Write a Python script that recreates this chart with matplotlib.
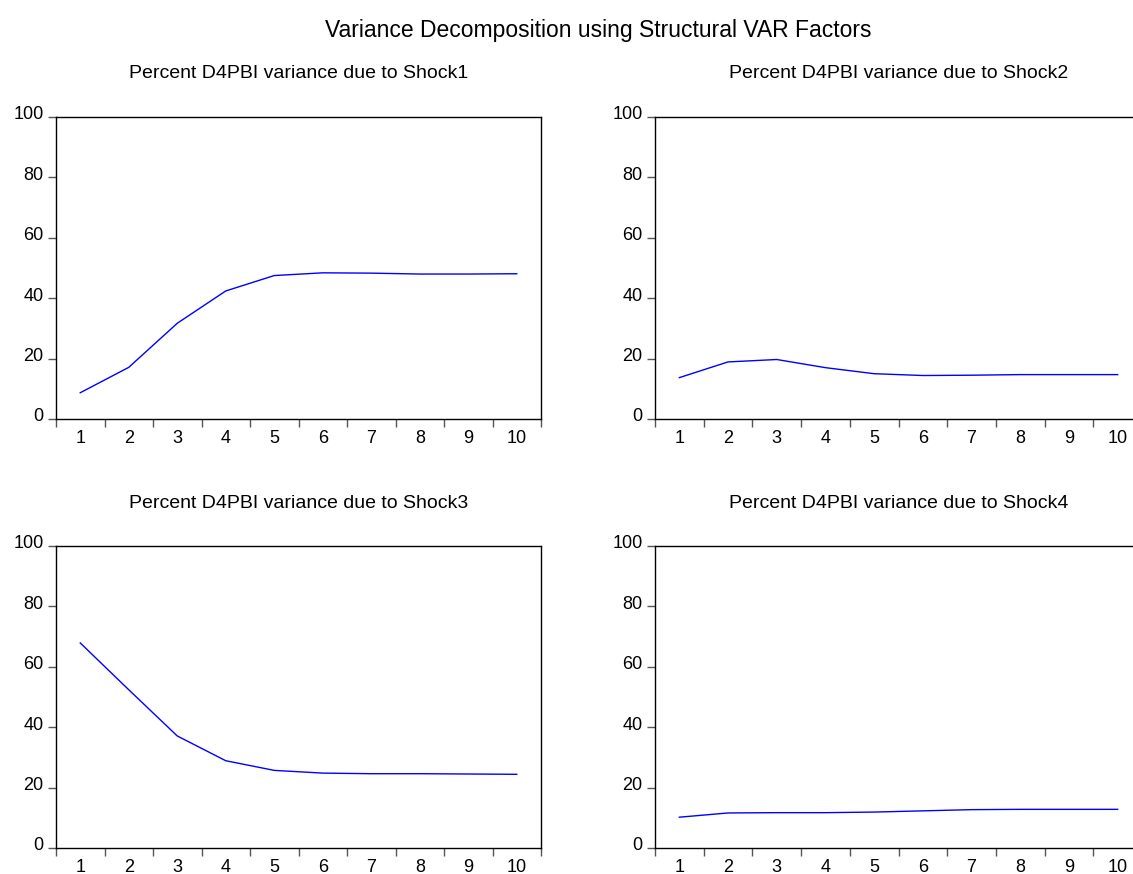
import matplotlib
matplotlib.use("Agg")
import matplotlib.pyplot as plt
import matplotlib.transforms as mtransforms

plt.rcParams["font.family"] = ["Liberation Sans", "DejaVu Sans"]

# forecast horizon
periods = [1, 2, 3, 4, 5, 6, 7, 8, 9, 10]

# percent of D4PBI variance explained by each shock
shock1 = [8.7, 17.1, 31.7, 42.4, 47.5, 48.4, 48.3, 48.0, 48.0, 48.1]
shock2 = [13.7, 18.9, 19.7, 17.0, 15.0, 14.4, 14.5, 14.7, 14.7, 14.7]
shock3 = [67.9, 52.4, 37.1, 28.9, 25.7, 24.8, 24.6, 24.6, 24.5, 24.4]
shock4 = [10.2, 11.6, 11.7, 11.7, 11.9, 12.3, 12.7, 12.8, 12.8, 12.8]

titles = [
    "Percent D4PBI variance due to Shock1",
    "Percent D4PBI variance due to Shock2",
    "Percent D4PBI variance due to Shock3",
    "Percent D4PBI variance due to Shock4",
]
series = [shock1, shock2, shock3, shock4]
yticks = [0, 20, 40, 60, 80, 100]

W, H = 1133, 874
fig = plt.figure(figsize=(W / 100, H / 100), dpi=100)

# axes boxes in pixels: left, top, right, bottom
boxes = [
    (56, 117, 541, 419),
    (655, 117, 1142, 419),
    (56, 546, 541, 848),
    (655, 546, 1142, 848),
]

for box, title, vals in zip(boxes, titles, series):
    l, t, r, b = box
    ax = fig.add_axes([l / W, 1 - b / H, (r - l) / W, (b - t) / H])
    ax.plot(periods, vals, color="#0000ff", lw=1.0)
    ax.set_xlim(0.5, 10.5)
    ax.set_ylim(0, 100)
    ax.set_yticks(yticks)
    ax.set_xticks(periods)
    ax.set_xticks([p + 0.5 for p in [0] + periods], minor=True)
    ax.tick_params(axis="x", which="major", length=0, pad=8, labelsize=13)
    ax.tick_params(axis="x", which="minor", length=6, width=1, color="#555555",
                   direction="out")
    ax.tick_params(axis="y", which="major", length=6, width=1, color="#555555",
                   direction="out", pad=3, labelsize=13)
    for sp in ax.spines.values():
        sp.set_linewidth(1.0)
        sp.set_color("black")
    # EViews draws the y labels a little above the tick
    off = mtransforms.ScaledTranslation(0, 3 / 72, fig.dpi_scale_trans)
    for lab in ax.get_yticklabels():
        lab.set_transform(lab.get_transform() + off)
    fig.text((l + r) / 2 / W, 1 - (t - 43) / H, title, ha="center", va="center",
             fontsize=14)

fig.text(598 / W, 1 - 30 / H, "Variance Decomposition using Structural VAR Factors",
         ha="center", va="center", fontsize=16.5)

fig.savefig("out.png", dpi=100)
